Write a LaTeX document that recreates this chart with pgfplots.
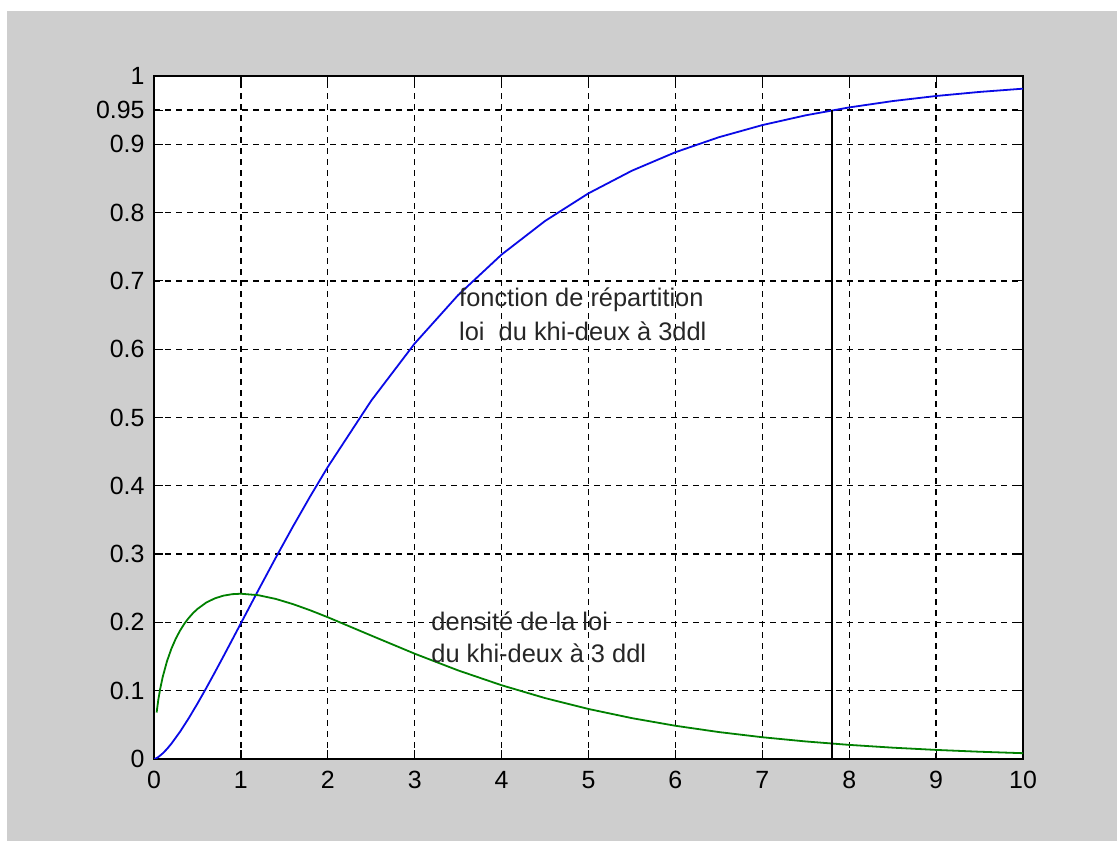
\documentclass[border=0pt]{standalone}
\usepackage{pgfplots}
\pgfplotsset{compat=1.18}
\usepackage{fontspec}
\setmainfont{Liberation Sans}
\definecolor{bgcol}{RGB}{206,206,206}
\definecolor{mblue}{RGB}{10,10,230}
\definecolor{mgreen}{RGB}{0,128,0}
\begin{document}
\begin{tikzpicture}
\useasboundingbox (0,0) rectangle (1117bp,841bp);
\fill[white] (0,0) rectangle (1117bp,841bp);
\fill[bgcol] (7bp,0) rectangle (1117bp,830bp);
\begin{axis}[
  at={(154bp,82bp)}, anchor=south west,
  scale only axis, width=869bp, height=683bp,
  xmin=0, xmax=10, ymin=0, ymax=1,
  axis background/.style={fill=white},
  axis line style={black, line width=1.2bp},
  xtick={0,1,2,3,4,5,6,7,8,9,10},
  xticklabels={0,1,2,3,4,5,6,7,8,9,10},
  ytick={0,0.1,0.2,0.3,0.4,0.5,0.6,0.7,0.8,0.9,0.95,1},
  yticklabels={0,0.1,0.2,0.3,0.4,0.5,0.6,0.7,0.8,0.9,0.95,1},
  tick label style={font=\fontsize{25}{29}\selectfont, black},
  xticklabel style={yshift=-9bp},
  yticklabel style={xshift=-6bp},
  tick align=inside, major tick length=9bp,
  tick style={black, line width=1.2bp},
  xtick pos=both, ytick pos=both,
  grid=major,
  major grid style={black, dash pattern=on 6bp off 5bp, line width=1.3bp},
  clip=true,
]
\addplot[mblue, line width=1.8bp] coordinates {
(0,0) (0.02,0.00075) (0.05,0.00293) (0.1,0.008163) (0.15,0.014773) (0.2,0.022411)
(0.3,0.039971) (0.4,0.059757) (0.5,0.081110) (0.6,0.103567) (0.7,0.126796)
(0.8,0.150532) (0.9,0.174572) (1.0,0.198747) (1.2,0.246997) (1.4,0.294466)
(1.6,0.340610) (1.8,0.385066) (2.0,0.427593) (2.5,0.524712) (3.0,0.608374)
(3.5,0.679242) (4.0,0.738536) (4.5,0.787711) (5.0,0.828203) (5.5,0.861362)
(6.0,0.888389) (6.5,0.910339) (7.0,0.928103) (7.5,0.942441) (8.0,0.953988)
(8.5,0.963268) (9.0,0.970709) (9.5,0.976667) (10,0.981435)
};
\addplot[mgreen, line width=1.8bp] coordinates {
(0.03,0.068070) (0.05,0.087004) (0.07,0.101920) (0.1,0.120004) (0.15,0.143345)
(0.2,0.161434) (0.25,0.176033) (0.3,0.188073) (0.35,0.198126) (0.4,0.206577)
(0.45,0.213698) (0.5,0.219695) (0.6,0.228927) (0.7,0.235210) (0.8,0.239186)
(0.9,0.241323) (1.0,0.241971) (1.2,0.239841) (1.4,0.234405) (1.6,0.226743)
(1.8,0.217611) (2.0,0.207554) (2.5,0.180721) (3.0,0.154180) (3.5,0.129695)
(4.0,0.107982) (4.5,0.089197) (5.0,0.073225) (5.5,0.059811) (6.0,0.048652)
(6.5,0.039437) (7.0,0.031873) (7.5,0.025694) (8.0,0.020667) (8.5,0.016591)
(9.0,0.013296) (9.5,0.010639) (10,0.008500)
};
\addplot[black, line width=1.6bp] coordinates {(7.8,0) (7.8,0.95)};
\node[anchor=west, font=\fontsize{25.5}{30}\selectfont, text=black!85, inner sep=0pt] at (axis cs:3.51,0.672) {fonction de répartition};
\node[anchor=west, font=\fontsize{25.5}{30}\selectfont, text=black!85, inner sep=0pt] at (axis cs:3.51,0.626) {loi\ \ du khi-deux à 3ddl};
\node[anchor=west, font=\fontsize{25.5}{30}\selectfont, text=black!85, inner sep=0pt] at (axis cs:3.19,0.201) {densité de la loi};
\node[anchor=west, font=\fontsize{25.5}{30}\selectfont, text=black!85, inner sep=0pt] at (axis cs:3.19,0.155) {du khi-deux à 3 ddl};
\end{axis}
\end{tikzpicture}
\end{document}
